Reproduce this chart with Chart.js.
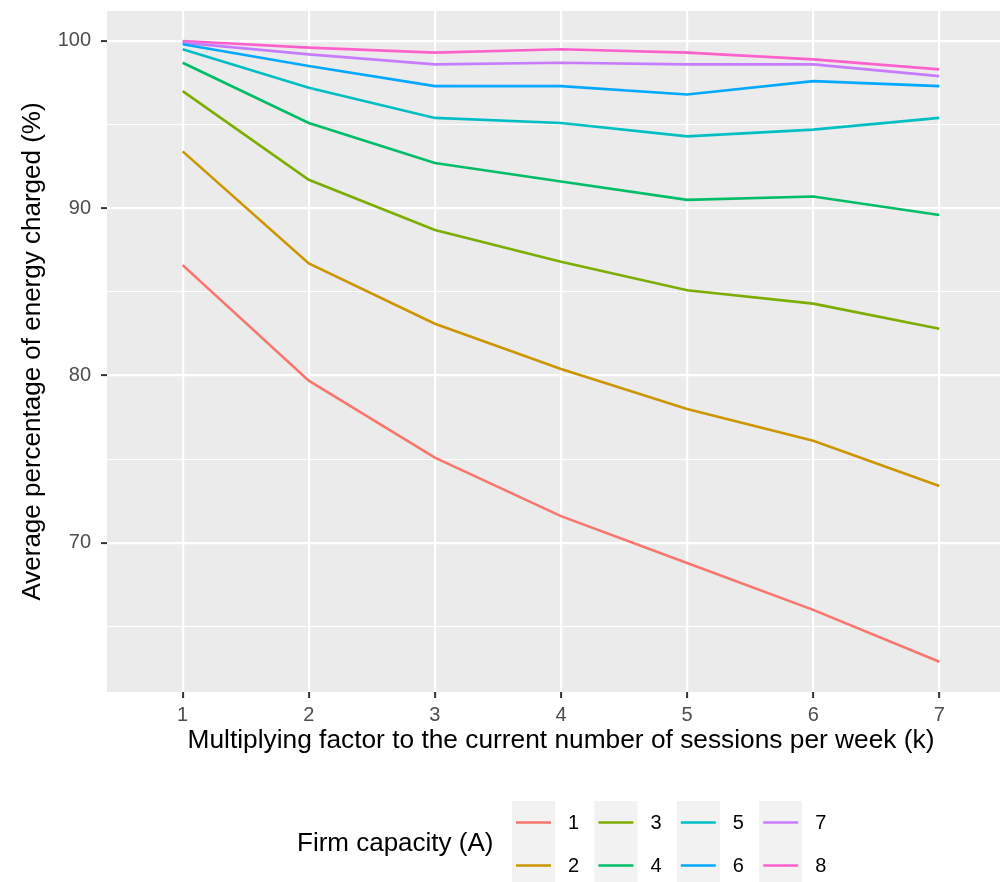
<!DOCTYPE html>
<html>
<head>
<meta charset="utf-8">
<title>Energy charged vs sessions</title>
<script src="https://cdn.jsdelivr.net/npm/chart.js@4"></script>
<style>
  html, body { margin: 0; padding: 0; background: #ffffff; overflow: hidden; }
  #wrap { position: relative; width: 1000px; height: 882px; overflow: hidden; }
  /* the panel runs a little past the right edge of the picture */
  #inner { position: relative; width: 1015px; height: 882px; }
</style>
</head>
<body>
<div id="wrap"><div id="inner"><canvas id="chart"></canvas></div></div>
<script>
// x values (multiplying factor k)
const factors = [1, 2, 3, 4, 5, 6, 7];
// firm capacity categories (A)
const capacities = ['1', '2', '3', '4', '5', '6', '7', '8'];
// average percentage of energy charged, one array per capacity
const cap1 = [86.6, 79.7, 75.1, 71.6, 68.8, 66.0, 62.9];
const cap2 = [93.4, 86.7, 83.1, 80.4, 78.0, 76.1, 73.4];
const cap3 = [97.0, 91.7, 88.7, 86.8, 85.1, 84.3, 82.8];
const cap4 = [98.7, 95.1, 92.7, 91.6, 90.5, 90.7, 89.6];
const cap5 = [99.5, 97.2, 95.4, 95.1, 94.3, 94.7, 95.4];
const cap6 = [99.8, 98.5, 97.3, 97.3, 96.8, 97.6, 97.3];
const cap7 = [99.9, 99.2, 98.6, 98.7, 98.6, 98.6, 97.9];
const cap8 = [100.0, 99.6, 99.3, 99.5, 99.3, 98.9, 98.3];
// axis tick values
const yTicks = [65, 70, 75, 80, 85, 90, 95, 100];
const yLabelTicks = [70, 80, 90, 100];

const seriesValues = [cap1, cap2, cap3, cap4, cap5, cap6, cap7, cap8];
// ggplot default hue palette for 8 groups
const palette = ['#F8766D', '#CD9600', '#7CAE00', '#00BE67', '#00BFC4', '#00A9FF', '#C77CFF', '#FF61CC'];

const FONT = '"Liberation Sans", Arial, Helvetica, sans-serif';
const LINE_W = 2.6;

const datasets = seriesValues.map((vals, i) => ({
  label: capacities[i],
  data: factors.map((k, j) => ({ x: k, y: vals[j] })),
  borderColor: palette[i],
  backgroundColor: palette[i],
  borderWidth: LINE_W,
  pointRadius: 0,
  tension: 0
}));

// grey panel behind the plot
const panelBackground = {
  id: 'panelBackground',
  beforeDraw(chart) {
    const { ctx, chartArea: a } = chart;
    ctx.save();
    ctx.fillStyle = '#EBEBEB';
    ctx.fillRect(a.left, a.top, a.right - a.left, a.bottom - a.top);
    ctx.restore();
  }
};

// ggplot style legend at the bottom: title then 2-row columns of keys
const bottomLegend = {
  id: 'bottomLegend',
  afterDraw(chart) {
    const ctx = chart.ctx;
    ctx.save();
    ctx.textBaseline = 'middle';
    ctx.fillStyle = '#000000';
    ctx.font = '26px ' + FONT;
    ctx.textAlign = 'left';
    ctx.fillText('Firm capacity (A)', 297, 844);

    const x0 = 512, y0 = 801, colW = 82.4, rowH = 43, boxW = 43;
    chart.data.datasets.forEach((ds, i) => {
      const col = Math.floor(i / 2), row = i % 2;
      const bx = x0 + col * colW, by = y0 + row * rowH;
      ctx.fillStyle = '#F2F2F2';
      ctx.fillRect(bx, by, boxW, rowH);
      ctx.strokeStyle = ds.borderColor;
      ctx.lineWidth = LINE_W;
      ctx.beginPath();
      ctx.moveTo(bx + 4, by + rowH / 2);
      ctx.lineTo(bx + boxW - 4, by + rowH / 2);
      ctx.stroke();
      ctx.fillStyle = '#000000';
      ctx.font = '20px ' + FONT;
      ctx.fillText(ds.label, bx + 56, by + rowH / 2 + 1);
    });
    ctx.restore();
  }
};

new Chart(document.getElementById('chart'), {
  type: 'line',
  data: { datasets: datasets },
  options: {
    responsive: true,
    maintainAspectRatio: false,
    animation: false,
    layout: { padding: { top: 11, right: 0, bottom: 110, left: 0 } },
    plugins: {
      legend: { display: false },
      tooltip: { enabled: false }
    },
    scales: {
      x: {
        type: 'linear',
        min: 0.4,
        max: 7.6,
        afterFit: (scale) => {
          scale.height = 80;
          scale.paddingLeft = 0;
          scale.paddingRight = 0;
        },
        afterBuildTicks: (scale) => { scale.ticks = factors.map(v => ({ value: v })); },
        border: { display: false },
        grid: {
          color: '#FFFFFF',
          lineWidth: 2.2,
          tickColor: '#333333',
          tickLength: 6,
          tickWidth: 2
        },
        ticks: {
          color: '#4D4D4D',
          font: { family: FONT, size: 20 },
          padding: 5,
          maxRotation: 0,
          callback: (v) => String(v)
        },
        title: {
          display: true,
          text: 'Multiplying factor to the current number of sessions per week (k)',
          color: '#000000',
          font: { family: FONT, size: 26.3 },
          padding: { top: 0, bottom: 15 }
        }
      },
      y: {
        type: 'linear',
        min: 61.09,
        max: 101.79,
        afterFit: (scale) => {
          scale.width = 107;
          scale.paddingTop = 0;
          scale.paddingBottom = 0;
        },
        afterBuildTicks: (scale) => { scale.ticks = yTicks.map(v => ({ value: v })); },
        border: { display: false },
        grid: {
          color: '#FFFFFF',
          lineWidth: (c) => (yLabelTicks.includes(c.tick && c.tick.value) ? 2.2 : 1.1),
          tickColor: (c) => (yLabelTicks.includes(c.tick && c.tick.value) ? '#333333' : 'rgba(0,0,0,0)'),
          tickLength: 6,
          tickWidth: 2
        },
        ticks: {
          color: '#4D4D4D',
          font: { family: FONT, size: 20 },
          padding: 10,
          callback: (v) => (yLabelTicks.includes(v) ? String(v) : '')
        },
        title: {
          display: true,
          text: 'Average percentage of energy charged (%)',
          color: '#000000',
          font: { family: FONT, size: 26 },
          padding: { top: 17, bottom: 0 }
        }
      }
    }
  },
  plugins: [panelBackground, bottomLegend]
});
</script>
</body>
</html>
